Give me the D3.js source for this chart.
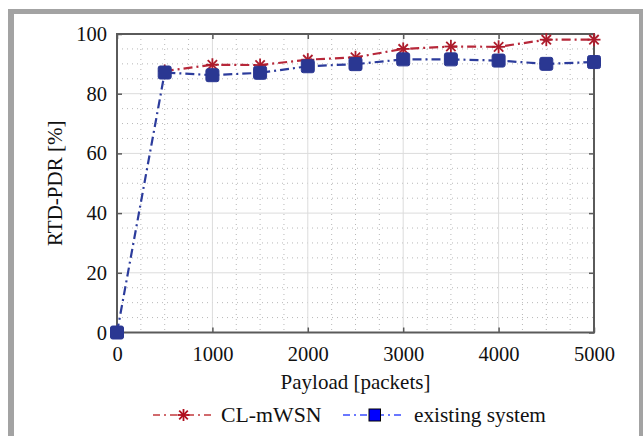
<!DOCTYPE html>
<html><head><meta charset="utf-8">
<script src="https://cdn.jsdelivr.net/npm/d3@7"></script>
<style>
html,body{margin:0;padding:0;background:#fff;}
svg{display:block;font-family:"Liberation Serif","Times New Roman",serif;}
</style></head>
<body><svg id="c" width="643" height="436"></svg>
<script>
// ---- data ----
const xTickValues = [0, 1000, 2000, 3000, 4000, 5000];
const yTickValues = [0, 20, 40, 60, 80, 100];
const payloadCL = [500, 1000, 1500, 2000, 2500, 3000, 3500, 4000, 4500, 5000];
const clmwsn    = [87.6, 89.7, 89.6, 91.4, 92.2, 95.0, 95.8, 95.7, 98.1, 98.1];
const payloadEx = [0, 500, 1000, 1500, 2000, 2500, 3000, 3500, 4000, 4500, 5000];
const existing  = [0, 87.1, 86.2, 87.0, 89.2, 89.9, 91.5, 91.5, 91.1, 90.0, 90.6];
const seriesNames = ["CL-mWSN", "existing system"];
const xLabel = "Payload [packets]";
const yLabel = "RTD-PDR [%]";

// ---- layout ----
const svg = d3.select("#c");
const L = 117, R = 594, T = 34, B = 332.5;
const x = d3.scaleLinear().domain([0, 5000]).range([L, R]);
const y = d3.scaleLinear().domain([0, 100]).range([B, T]);

// outer gray frame
svg.append("rect").attr("x", 8).attr("y", 9).attr("width", 6).attr("height", 436 - 9).attr("fill", "#a3a3a3");
svg.append("rect").attr("x", 8).attr("y", 9).attr("width", 643 - 8).attr("height", 5).attr("fill", "#a3a3a3");
svg.append("rect").attr("x", 639).attr("y", 9).attr("width", 4).attr("height", 436 - 9).attr("fill", "#a3a3a3");

// minor grid
const g = svg.append("g");
g.selectAll(".mx").data(d3.range(250, 5000, 250).filter(v => v % 1000 !== 0)).join("line")
  .attr("x1", d => x(d)).attr("x2", d => x(d)).attr("y1", T).attr("y2", B)
  .attr("stroke", "#b8b8b8").attr("stroke-width", 1).attr("stroke-dasharray", "1,4");
g.selectAll(".my").data(d3.range(5, 100, 5).filter(v => v % 20 !== 0)).join("line")
  .attr("y1", d => y(d)).attr("y2", d => y(d)).attr("x1", L).attr("x2", R)
  .attr("stroke", "#b8b8b8").attr("stroke-width", 1).attr("stroke-dasharray", "1,4");
// major grid
g.selectAll(".Mx").data(xTickValues.slice(1, -1)).join("line")
  .attr("x1", d => x(d)).attr("x2", d => x(d)).attr("y1", T).attr("y2", B)
  .attr("stroke", "#dcdcdc").attr("stroke-width", 1);
g.selectAll(".My").data(yTickValues.slice(1, -1)).join("line")
  .attr("y1", d => y(d)).attr("y2", d => y(d)).attr("x1", L).attr("x2", R)
  .attr("stroke", "#dcdcdc").attr("stroke-width", 1);

// axes (ticks inward)
const axCol = "#5a5a5a";
function styleAxis(sel, fs) {
  sel.select(".domain").remove();
  sel.selectAll("line").attr("stroke", axCol).attr("stroke-width", 1.5);
  sel.selectAll("text").attr("fill", "#111").attr("font-size", fs).attr("font-family", '"Liberation Serif","Times New Roman",serif');
}
const xb = svg.append("g").attr("transform", `translate(0,${B})`)
  .call(d3.axisBottom(x).tickValues(xTickValues).tickSizeInner(-5).tickSizeOuter(0).tickPadding(14).tickFormat(d3.format("d")));
styleAxis(xb, 20.5);
xb.selectAll("text").attr("dy", "0.71em");
const yl = svg.append("g").attr("transform", `translate(${L},0)`)
  .call(d3.axisLeft(y).tickValues(yTickValues).tickSizeInner(-5).tickSizeOuter(0).tickPadding(10).tickFormat(d3.format("d")));
styleAxis(yl, 20.5);
const xt = svg.append("g").attr("transform", `translate(0,${T})`)
  .call(d3.axisTop(x).tickValues(xTickValues).tickSizeInner(-5).tickSizeOuter(0).tickFormat(""));
styleAxis(xt, 0);
const yr = svg.append("g").attr("transform", `translate(${R},0)`)
  .call(d3.axisRight(y).tickValues(yTickValues).tickSizeInner(-5).tickSizeOuter(0).tickFormat(""));
styleAxis(yr, 0);
svg.append("rect").attr("x", L).attr("y", T).attr("width", R - L).attr("height", B - T)
  .attr("fill", "none").attr("stroke", axCol).attr("stroke-width", 2);

// labels
svg.append("text").attr("x", (L + R) / 2).attr("y", 389).attr("text-anchor", "middle")
  .attr("font-size", 21).attr("fill", "#111").text(xLabel);
svg.append("text").attr("transform", `translate(62,${(T + B) / 2}) rotate(-90)`).attr("text-anchor", "middle")
  .attr("font-size", 21).attr("fill", "#111").text(yLabel);

// series
const dash = "9,4,2,4";
const redLine = "#b7283a", redMark = "#ad1c2c";
const blueLine = "#2c3c9c", blueMark = "#2a3792";
const line = d3.line().x(d => x(d[0])).y(d => y(d[1]));
const clData = payloadCL.map((p, i) => [p, clmwsn[i]]);
const exData = payloadEx.map((p, i) => [p, existing[i]]);

function star(sel, cx, cy, r, col) {
  const s = sel.append("g").attr("stroke", col).attr("stroke-width", 1.8);
  [[r, 0], [0, r], [r * 0.72, r * 0.72], [r * 0.72, -r * 0.72]].forEach(([dx, dy]) => {
    s.append("line").attr("x1", cx - dx).attr("y1", cy - dy).attr("x2", cx + dx).attr("y2", cy + dy);
  });
}

svg.append("path").datum(clData).attr("d", line).attr("fill", "none")
  .attr("stroke", redLine).attr("stroke-width", 2.2).attr("stroke-dasharray", dash);
clData.forEach(d => star(svg, x(d[0]), y(d[1]), 6.5, redMark));

svg.append("path").datum(exData).attr("d", line).attr("fill", "none")
  .attr("stroke", blueLine).attr("stroke-width", 2.2).attr("stroke-dasharray", dash);
svg.selectAll(".sq").data(exData).join("rect")
  .attr("x", d => x(d[0]) - 6.5).attr("y", d => y(d[1]) - 6.5)
  .attr("width", 13).attr("height", 13).attr("rx", 2)
  .attr("fill", blueMark).attr("stroke", blueMark).attr("stroke-width", 1);

// legend
const ly = 415;
svg.append("line").attr("x1", 153).attr("x2", 214).attr("y1", ly).attr("y2", ly)
  .attr("stroke", "#c23a3e").attr("stroke-width", 1.6).attr("stroke-dasharray", "7,4,2,4");
star(svg, 183.5, ly, 6, "#b0101e");
svg.append("text").attr("x", 221).attr("y", 422).attr("font-size", 21.8).attr("fill", "#111").text(seriesNames[0]);
svg.append("line").attr("x1", 343).attr("x2", 405).attr("y1", ly).attr("y2", ly)
  .attr("stroke", "#3a4cff").attr("stroke-width", 1.6).attr("stroke-dasharray", "7,4,2,4");
svg.append("rect").attr("x", 369).attr("y", ly - 6).attr("width", 11.5).attr("height", 12)
  .attr("fill", "#0000ff").attr("stroke", "#000").attr("stroke-width", 1);
svg.append("text").attr("x", 414).attr("y", 422).attr("font-size", 21.3).attr("fill", "#111").text(seriesNames[1]);
</script></body></html>
